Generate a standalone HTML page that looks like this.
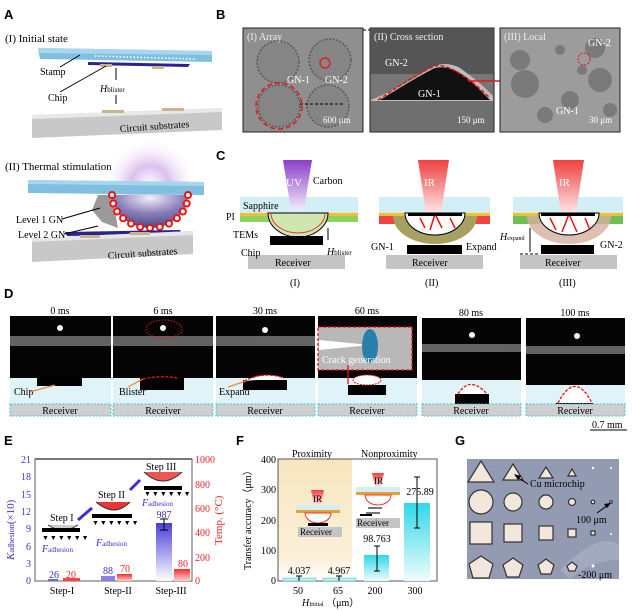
<!DOCTYPE html>
<html><head><meta charset="utf-8"><style>
html,body{margin:0;padding:0;background:#fff;}
svg{display:block;font-family:"Liberation Serif",serif;}
.pl{font-family:"Liberation Sans",sans-serif;font-weight:bold;font-size:13px;}
</style></head><body>
<svg width="632" height="611" viewBox="0 0 632 611" xmlns="http://www.w3.org/2000/svg">
<defs>
<linearGradient id="uv" x1="0" y1="0" x2="0" y2="1"><stop offset="0" stop-color="#8a3fc8"/><stop offset="1" stop-color="#f3e9fa"/></linearGradient>
<linearGradient id="ir" x1="0" y1="0" x2="0" y2="1"><stop offset="0" stop-color="#f04040"/><stop offset="1" stop-color="#fde6e6"/></linearGradient>
<linearGradient id="bb" x1="0" y1="0" x2="0" y2="1"><stop offset="0" stop-color="#4a3fd8"/><stop offset="1" stop-color="#ffffff"/></linearGradient>
<linearGradient id="rb" x1="0" y1="0" x2="0" y2="1"><stop offset="0" stop-color="#f03030"/><stop offset="1" stop-color="#ffd0d0"/></linearGradient>
<linearGradient id="cb" x1="0" y1="0" x2="0" y2="1"><stop offset="0" stop-color="#30d8e8"/><stop offset="1" stop-color="#f0fcfd"/></linearGradient>
<linearGradient id="prox" x1="0" y1="0" x2="0" y2="1"><stop offset="0" stop-color="#f7e7c0"/><stop offset="0.8" stop-color="#faf0d8"/><stop offset="1" stop-color="#fff"/></linearGradient>
<radialGradient id="glow" cx="0.5" cy="0.5" r="0.5"><stop offset="0" stop-color="#fff"/><stop offset="0.4" stop-color="#dcc0ee"/><stop offset="1" stop-color="#fff" stop-opacity="0"/></radialGradient>
<radialGradient id="hemi" cx="0.5" cy="0.1" r="0.9"><stop offset="0" stop-color="#f4eef8"/><stop offset="0.5" stop-color="#8a80b8"/><stop offset="1" stop-color="#4a4a8a"/></radialGradient>
</defs>

<!-- ===== A ===== -->
<text class="pl" x="4" y="19">A</text>
<text x="5" y="42" font-size="11">(I) Initial state</text>
<polygon points="38,48 212,51 212,62 40,59" fill="#7fbfe0"/>
<polygon points="38,48 212,51 212,55 40,53" fill="#a9d6ee"/>
<line x1="95" y1="56" x2="195" y2="59" stroke="#fff" stroke-width="1.5" stroke-dasharray="1.5,2"/>
<polygon points="88,62 190,64 188,67 88,65" fill="#2a2290"/>
<rect x="100" y="64" width="12" height="3" fill="#c8b48a"/><rect x="152" y="66" width="12" height="3" fill="#c8b48a"/>
<polygon points="32,115 222,108 222,130 32,138" fill="#c8c8c8"/>
<polygon points="32,115 222,108 222,112 32,119" fill="#e8e8e8"/>
<rect x="102" y="110" width="22" height="3" fill="#c8b48a"/><rect x="162" y="108" width="22" height="3" fill="#c8b48a"/>
<text x="40" y="75" font-size="10">Stamp</text>
<line x1="60" y1="67" x2="80" y2="55" stroke="#000"/>
<text x="48" y="101" font-size="10">Chip</text>
<line x1="60" y1="92" x2="106" y2="66" stroke="#000"/>
<text x="100" y="92" font-size="10" font-style="italic">H<tspan font-size="7" font-style="normal">blister</tspan></text>
<line x1="116" y1="68" x2="116" y2="80" stroke="#000"/><line x1="116" y1="95" x2="116" y2="104" stroke="#000"/>
<text x="120" y="132" font-size="10" transform="rotate(-4 120 132)">Circuit substrates</text>

<text x="5" y="170" font-size="11">(II) Thermal stimulation</text>
<circle cx="150" cy="185" r="48" fill="url(#glow)"/>
<polygon points="28,180 204,182 204,195 28,193" fill="#7fbfe0"/>
<polygon points="28,180 204,182 204,186 28,184" fill="#a9d6ee"/>
<path d="M98,195 L112,195 L118,228 L102,222 L92,210 Z" fill="#9a9a9a"/>
<path d="M112,195 A38,33 0 0 0 188,195 Z" fill="url(#hemi)"/>
<g fill="#fff" stroke="#e11" stroke-width="2">
<circle cx="188" cy="195" r="3"/><circle cx="186.7" cy="203.5" r="3"/><circle cx="182.9" cy="211.5" r="3"/><circle cx="176.9" cy="218.3" r="3"/><circle cx="169" cy="223.6" r="3"/><circle cx="159.8" cy="226.9" r="3"/><circle cx="150" cy="228" r="3"/><circle cx="140.2" cy="226.9" r="3"/><circle cx="131" cy="223.6" r="3"/><circle cx="123.1" cy="218.3" r="3"/><circle cx="117.1" cy="211.5" r="3"/><circle cx="113.3" cy="203.5" r="3"/><circle cx="112" cy="195" r="3"/></g>
<polygon points="65,232 180,230 182,234 67,236" fill="#2a2290"/>
<polygon points="32,238 193,231 193,254 32,262" fill="#c8c8c8"/>
<polygon points="32,238 193,231 193,235 32,242" fill="#e6e6e6"/>
<rect x="80" y="235" width="20" height="3" fill="#c8b48a"/><rect x="130" y="232" width="20" height="3" fill="#c8b48a"/>
<text x="16" y="223" font-size="10">Level 1 GN</text>
<line x1="62" y1="219" x2="100" y2="208" stroke="#000"/>
<text x="18" y="238" font-size="10">Level 2 GN</text>
<line x1="64" y1="234" x2="98" y2="226" stroke="#000"/>
<text x="108" y="259" font-size="10" transform="rotate(-4 108 259)">Circuit substrates</text>

<!-- ===== B ===== -->
<text class="pl" x="216" y="19">B</text>
<rect x="243" y="28" width="120" height="104" fill="#8f8f8f" stroke="#222"/>
<g fill="#858585" stroke="#5a5a5a" stroke-width="1.5" stroke-dasharray="2,1.5">
<circle cx="278" cy="62" r="21"/><circle cx="330" cy="60" r="21"/><circle cx="279" cy="106" r="21"/><circle cx="328" cy="106" r="21"/></g>
<circle cx="279" cy="106" r="23" fill="none" stroke="#e11" stroke-width="1.5" stroke-dasharray="5,3"/>
<circle cx="325" cy="63" r="5" fill="none" stroke="#e11" stroke-width="1.3"/>
<text x="247" y="40" font-size="10" fill="#eee">(I) Array</text>
<text x="287" y="83" font-size="10" fill="#fff">GN-1</text>
<text x="325" y="83" font-size="10" fill="#fff">GN-2</text>
<text x="323" y="123" font-size="9" fill="#fff">600 μm</text>
<line x1="300" y1="104" x2="345" y2="104" stroke="#000" stroke-dasharray="3,2"/>
<line x1="363" y1="30" x2="370" y2="30" stroke="#000" stroke-dasharray="3,2"/>
<rect x="370" y="28" width="124" height="104" fill="#777" stroke="#222"/>
<rect x="371" y="29" width="122" height="45" fill="#555"/>
<path d="M371,100 Q400,88 430,68 Q445,60 460,68 Q480,82 493,96 L493,101 L371,101 Z" fill="#bdbdbd"/>
<path d="M380,100 Q420,75 435,68 Q450,64 470,80 L490,100 Z" fill="#111"/>
<rect x="371" y="101" width="122" height="30" fill="#6f6f6f"/>
<path d="M378,100 Q420,72 435,66 Q452,62 490,98" fill="none" stroke="#e11" stroke-width="1.5" stroke-dasharray="4,2"/>
<text x="374" y="40" font-size="10" fill="#eee">(II) Cross section</text>
<text x="385" y="66" font-size="10" fill="#fff">GN-2</text>
<text x="418" y="97" font-size="10" fill="#fff">GN-1</text>
<text x="457" y="123" font-size="9" fill="#fff">150 μm</text>
<line x1="468" y1="81" x2="505" y2="81" stroke="#e11" stroke-width="1.5"/>
<rect x="500" y="28" width="120" height="104" fill="#9c9c9c" stroke="#222"/>
<g fill="#7a7a7a"><circle cx="520" cy="60" r="10"/><circle cx="525" cy="84" r="14"/><circle cx="595" cy="48" r="10"/><circle cx="600" cy="80" r="12"/><circle cx="570" cy="100" r="9"/><circle cx="545" cy="115" r="8"/><circle cx="610" cy="110" r="7"/><circle cx="560" cy="50" r="5"/><circle cx="582" cy="70" r="5"/></g>
<circle cx="584" cy="59" r="6" fill="none" stroke="#e11" stroke-dasharray="2,1.5"/>
<text x="504" y="40" font-size="10" fill="#eee">(III) Local</text>
<text x="588" y="46" font-size="10" fill="#fff">GN-2</text>
<text x="556" y="114" font-size="10" fill="#fff">GN-1</text>
<text x="589" y="123" font-size="9" fill="#fff">30 μm</text>

<!-- ===== C ===== -->
<text class="pl" x="216" y="160">C</text>
<rect x="240" y="197" width="118" height="16" fill="#d3eff6"/>
<polygon points="283,160 312,160 304,210 291,210" fill="url(#uv)"/>
<rect x="240" y="213" width="118" height="3" fill="#f0c030"/>
<rect x="240" y="216" width="118" height="6" fill="#8dd160"/>
<path d="M268,213 A30,24 0 0 0 328,213 Z" fill="#cfe6b0" stroke="#000"/>
<path d="M271,213 A27,20 0 0 0 325,213" fill="none" stroke="#e33" stroke-width="1"/>
<rect x="270" y="236" width="53" height="9" fill="#000"/>
<rect x="248" y="255" width="97" height="14" fill="#c4c4c4"/>
<text x="286" y="186" font-size="11" fill="#fff">UV</text>
<text x="313" y="184" font-size="10">Carbon</text>
<text x="243" y="209" font-size="10">Sapphire</text>
<text x="226" y="220" font-size="10">PI</text>
<text x="233" y="238" font-size="10">TEMs</text>
<text x="241" y="256" font-size="10">Chip</text>
<text x="327" y="255" font-size="10" font-style="italic">H<tspan font-size="7" font-style="normal">blister</tspan></text>
<line x1="328" y1="228" x2="328" y2="240" stroke="#000"/>
<text x="275" y="266" font-size="10">Receiver</text>
<text x="290" y="286" font-size="10">(I)</text>
<rect x="379" y="197" width="111" height="16" fill="#d3eff6"/>
<polygon points="418,160 449,160 441,213 426,213" fill="url(#ir)"/>
<rect x="379" y="213" width="111" height="3" fill="#f0c030"/>
<rect x="379" y="216" width="111" height="8" fill="#8bbf55"/>
<rect x="379" y="216" width="30" height="8" fill="#e44"/><rect x="460" y="216" width="30" height="8" fill="#e44"/>
<path d="M393,216 A42,28 0 0 0 477,216 Z" fill="#a8a060"/>
<path d="M405,213 A30,22 0 0 0 465,213 Z" fill="#fff" stroke="#000"/>
<path d="M435,214 L430,230 M435,214 L442,228 M420,218 L425,228 M450,218 L455,228" stroke="#e11" stroke-width="1.5"/>
<rect x="408" y="213" width="54" height="3" fill="#000"/>
<rect x="407" y="245" width="55" height="9" fill="#000"/>
<rect x="386" y="255" width="97" height="14" fill="#c4c4c4"/>
<text x="424" y="186" font-size="11" fill="#fff">IR</text>
<text x="371" y="250" font-size="10">GN-1</text>
<text x="466" y="250" font-size="10">Expand</text>
<text x="412" y="266" font-size="10">Receiver</text>
<text x="425" y="286" font-size="10">(II)</text>
<rect x="513" y="197" width="110" height="16" fill="#d3eff6"/>
<polygon points="553,160 584,160 576,213 561,213" fill="url(#ir)"/>
<rect x="513" y="213" width="110" height="3" fill="#f0c030"/>
<rect x="513" y="216" width="110" height="8" fill="#6cbf55"/>
<path d="M527,216 A42,28 0 0 0 611,216 Z" fill="#d6b0a0" opacity="0.8"/>
<path d="M539,213 A30,22 0 0 0 599,213 Z" fill="#fff" stroke="#000"/>
<path d="M569,214 L562,232 M569,214 L577,232 M550,218 L556,230 M585,218 L590,230" stroke="#e11" stroke-width="1.5"/>
<rect x="541" y="213" width="54" height="3" fill="#000"/>
<rect x="541" y="245" width="53" height="9" fill="#000"/>
<rect x="520" y="255" width="97" height="14" fill="#c4c4c4"/>
<line x1="520" y1="254" x2="540" y2="254" stroke="#000" stroke-dasharray="3,2"/>
<line x1="530" y1="228" x2="530" y2="252" stroke="#000"/>
<text x="559" y="186" font-size="11" fill="#fff">IR</text>
<text x="500" y="240" font-size="10" font-style="italic">H<tspan font-size="6" font-style="normal">expand</tspan></text>
<text x="600" y="248" font-size="10">GN-2</text>
<text x="545" y="266" font-size="10">Receiver</text>
<text x="559" y="286" font-size="10">(III)</text>

<!-- ===== D ===== -->
<text class="pl" x="4" y="298">D</text>
<g font-size="10" text-anchor="middle">
<text x="60" y="314">0 ms</text><text x="163" y="314">6 ms</text><text x="265" y="314">30 ms</text><text x="367" y="314">60 ms</text><text x="471" y="316">80 ms</text><text x="575" y="316">100 ms</text></g>
<g fill="#050505">
<rect x="10" y="316" width="101" height="100"/><rect x="113" y="316" width="100" height="100"/><rect x="216" y="316" width="99" height="100"/>
<rect x="318" y="316" width="99" height="100"/><rect x="422" y="318" width="99" height="98"/><rect x="526" y="318" width="99" height="98"/></g>
<g fill="#7a7a7a" opacity="0.8">
<rect x="10" y="336" width="101" height="10"/><rect x="113" y="336" width="100" height="10"/><rect x="216" y="336" width="99" height="10"/>
<rect x="422" y="344" width="99" height="8"/><rect x="526" y="346" width="99" height="8"/></g>
<g fill="#fff"><circle cx="60" cy="328" r="3"/><circle cx="163" cy="328" r="3"/><circle cx="265" cy="330" r="3"/><circle cx="472" cy="335" r="3"/><circle cx="577" cy="336" r="3"/></g>
<ellipse cx="164" cy="329" rx="18" ry="9" fill="none" stroke="#e11" stroke-dasharray="1.5,1.5"/>
<g fill="#dff3f8">
<rect x="10" y="378" width="101" height="26"/><rect x="113" y="378" width="100" height="26"/><rect x="216" y="378" width="99" height="26"/>
<rect x="318" y="378" width="99" height="26"/><rect x="422" y="380" width="99" height="24"/><rect x="526" y="385" width="99" height="19"/></g>
<rect x="37" y="376" width="45" height="10" fill="#000"/>
<rect x="140" y="378" width="44" height="12" fill="#000"/>
<path d="M143,379 Q160,375 178,378" fill="none" stroke="#e11" stroke-width="1.3" stroke-dasharray="3,1.5"/>
<rect x="243" y="380" width="44" height="10" fill="#000"/>
<path d="M244,381 Q264,371 284,378" fill="#fff" stroke="#e11" stroke-width="1.3" stroke-dasharray="3,1.5"/>
<rect x="348" y="385" width="38" height="10" fill="#000"/>
<ellipse cx="367" cy="380" rx="14" ry="5" fill="#fff" stroke="#e11" stroke-dasharray="2,1"/>
<rect x="318" y="327" width="94" height="43" fill="#b8b8b8" stroke="#e11" stroke-width="1.3" stroke-dasharray="3,2"/>
<polygon points="319,340 370,345 319,350" fill="#fff"/>
<ellipse cx="370" cy="346" rx="8" ry="17" fill="#2a7fa8"/>
<text x="322" y="363" font-size="10" fill="#fff">Crack generation</text>
<line x1="348" y1="365" x2="348" y2="384" stroke="#e11" stroke-width="1.3"/>
<rect x="455" y="394" width="34" height="10" fill="#000"/>
<path d="M458,394 Q470,375 487,394" fill="#fff" stroke="#e11" stroke-width="1.3" stroke-dasharray="3,1.5"/>
<rect x="556" y="403" width="37" height="12" fill="#000"/>
<path d="M558,403 Q575,370 592,403" fill="#fff" stroke="#e11" stroke-width="1.3" stroke-dasharray="3,1.5"/>
<g fill="#cfcfcf" stroke="#39c4d6" stroke-dasharray="2,1.5">
<rect x="10" y="404" width="101" height="12"/><rect x="113" y="404" width="100" height="12"/><rect x="216" y="404" width="99" height="12"/>
<rect x="318" y="404" width="99" height="12"/><rect x="422" y="404" width="99" height="12"/><rect x="526" y="404" width="99" height="12"/></g>
<g font-size="10" text-anchor="middle"><text x="60" y="414">Receiver</text><text x="163" y="414">Receiver</text><text x="265" y="414">Receiver</text><text x="367" y="414">Receiver</text><text x="471" y="414">Receiver</text><text x="575" y="414">Receiver</text></g>
<text x="14" y="395" font-size="10">Chip</text><line x1="30" y1="392" x2="55" y2="385" stroke="#f08a30" stroke-width="1.2"/>
<text x="119" y="395" font-size="10">Blister</text><line x1="128" y1="387" x2="143" y2="379" stroke="#f08a30" stroke-width="1.2"/>
<text x="219" y="395" font-size="10">Expand</text><line x1="228" y1="387" x2="246" y2="381" stroke="#f08a30" stroke-width="1.2"/>
<text x="592" y="428" font-size="10">0.7 mm</text><line x1="590" y1="430" x2="627" y2="430" stroke="#000"/>

<!-- ===== E ===== -->
<text class="pl" x="4" y="445">E</text>
<rect x="35" y="459" width="157" height="122" fill="none" stroke="#777" stroke-width="1.2"/>
<line x1="35" y1="459" x2="192" y2="459" stroke="#777" stroke-width="2"/>
<g font-size="10" fill="#3a2fd0" text-anchor="end">
<text x="31" y="463">21</text><text x="31" y="480">18</text><text x="31" y="498">15</text><text x="31" y="515">12</text><text x="31" y="532">9</text><text x="31" y="550">6</text><text x="31" y="567">3</text><text x="31" y="584">0</text></g>
<g font-size="10" fill="#e22">
<text x="195" y="463">1000</text><text x="195" y="488">800</text><text x="195" y="512">600</text><text x="195" y="536">400</text><text x="195" y="561">200</text><text x="195" y="584">0</text></g>
<text font-size="11" fill="#3a2fd0" transform="translate(14,560) rotate(-90)"><tspan font-style="italic">K</tspan><tspan font-size="8">adhesion</tspan>(×10)</text>
<text font-size="11" fill="#e22" transform="translate(222,545) rotate(-90)">Temp. (°C)</text>
<rect x="48" y="579" width="10" height="2" fill="#7068e0"/>
<rect x="63" y="578" width="17" height="3" fill="#f44"/>
<rect x="101" y="576" width="14" height="5" fill="#8a80e8"/>
<rect x="117" y="574" width="15" height="7" fill="url(#rb)"/>
<rect x="156" y="523" width="16" height="58" fill="url(#bb)"/>
<line x1="164" y1="519" x2="164" y2="530" stroke="#000"/><line x1="160" y1="519" x2="168" y2="519" stroke="#000"/><line x1="160" y1="530" x2="168" y2="530" stroke="#000"/>
<rect x="174" y="569" width="16" height="12" fill="url(#rb)"/>
<g font-size="10" text-anchor="middle"><text x="54" y="578" fill="#3a2fd0">26</text><text x="71" y="578" fill="#e22">20</text>
<text x="108" y="574" fill="#3a2fd0">88</text><text x="125" y="572" fill="#e22">70</text><text x="164" y="518" fill="#3a2fd0">987</text><text x="183" y="567" fill="#e22">80</text></g>
<g font-size="10" text-anchor="middle"><text x="62" y="594">Step-I</text><text x="118" y="594">Step-II</text><text x="171" y="594">Step-III</text></g>
<text x="50" y="521" font-size="10">Step I</text>
<path d="M48,525 Q63,535 78,525" fill="#ccc" stroke="#333"/>
<rect x="42" y="528" width="38" height="4" fill="#000"/>
<text x="42" y="540" font-size="7" letter-spacing="1">▼▼▼▼▼▼</text>
<text x="42" y="552" font-size="10" fill="#3a2fd0"><tspan font-style="italic">F</tspan><tspan font-size="7">adhesion</tspan></text>
<line x1="78" y1="520" x2="92" y2="508" stroke="#3a2fd0" stroke-width="3"/>
<text x="98" y="498" font-size="10">Step II</text>
<path d="M96,502 Q115,518 130,502" fill="#e33" stroke="#333"/>
<rect x="92" y="514" width="40" height="4" fill="#000"/>
<text x="92" y="525" font-size="7" letter-spacing="1">▼▼▼▼▼▼</text>
<text x="96" y="546" font-size="10" fill="#3a2fd0"><tspan font-style="italic">F</tspan><tspan font-size="7">adhesion</tspan></text>
<line x1="130" y1="490" x2="140" y2="480" stroke="#3a2fd0" stroke-width="3"/>
<text x="146" y="470" font-size="10">Step III</text>
<path d="M144,472 Q163,490 182,472" fill="#e55" stroke="#333"/>
<rect x="144" y="486" width="38" height="4" fill="#000"/>
<text x="144" y="496" font-size="7" letter-spacing="1">▼▼▼▼▼▼</text>
<text x="142" y="506" font-size="10" fill="#3a2fd0"><tspan font-style="italic">F</tspan><tspan font-size="7">adhesion</tspan></text>

<!-- ===== F ===== -->
<text class="pl" x="236" y="445">F</text>
<rect x="278" y="459" width="74" height="122" fill="url(#prox)"/>
<rect x="278" y="459" width="159" height="122" fill="none" stroke="#555"/>
<g font-size="10" text-anchor="end"><text x="276" y="463">400</text><text x="276" y="493">300</text><text x="276" y="524">200</text><text x="276" y="554">100</text><text x="276" y="584">0</text></g>
<text font-size="10" transform="translate(251,570) rotate(-90)">Transfer accuracy（μm）</text>
<text x="292" y="457" font-size="10">Proximity</text>
<text x="361" y="457" font-size="10">Nonproximity</text>
<rect x="283" y="578" width="33" height="3" fill="#bdf0f4" stroke="#39c4d6" stroke-width="0.5"/>
<rect x="323" y="578" width="33" height="3" fill="#bdf0f4" stroke="#39c4d6" stroke-width="0.5"/>
<rect x="364" y="555" width="25" height="26" fill="url(#cb)"/>
<rect x="404" y="503" width="26" height="78" fill="url(#cb)"/>
<g stroke="#000"><line x1="377" y1="546" x2="377" y2="571"/><line x1="374" y1="546" x2="380" y2="546"/><line x1="374" y1="571" x2="380" y2="571"/>
<line x1="417" y1="477" x2="417" y2="528"/><line x1="414" y1="477" x2="420" y2="477"/><line x1="414" y1="528" x2="420" y2="528"/>
<line x1="299" y1="576" x2="299" y2="581"/><line x1="339" y1="576" x2="339" y2="581"/><line x1="296" y1="576" x2="302" y2="576"/><line x1="336" y1="576" x2="342" y2="576"/></g>
<g font-size="10" text-anchor="middle"><text x="299" y="574">4.037</text><text x="339" y="574">4.967</text><text x="377" y="542">98.763</text><text x="420" y="495">275.89</text>
<text x="298" y="594">50</text><text x="338" y="594">65</text><text x="375" y="594">200</text><text x="415" y="594">300</text></g>
<text x="302" y="606" font-size="10"><tspan font-style="italic">H</tspan><tspan font-size="6">Initial</tspan> （μm）</text>
<polygon points="311,490 324,490 321,505 314,505" fill="url(#ir)"/>
<text x="313" y="502" font-size="9">IR</text>
<rect x="296" y="505" width="44" height="5" fill="#d3eff6"/>
<rect x="296" y="510" width="44" height="3" fill="#e8a030"/>
<path d="M305,513 A13,10 0 0 0 331,513 Z" fill="#fff" stroke="#e33"/>
<rect x="308" y="523" width="20" height="3" fill="#000"/>
<rect x="298" y="527" width="44" height="10" fill="#c4c4c4"/>
<text x="300" y="535" font-size="9">Receiver</text>
<polygon points="372,473 384,473 381,487 375,487" fill="url(#ir)"/>
<text x="374" y="484" font-size="9">IR</text>
<rect x="356" y="487" width="44" height="5" fill="#d3eff6"/>
<rect x="356" y="492" width="44" height="3" fill="#e8a030"/>
<path d="M365,495 A13,10 0 0 0 391,495 Z" fill="#fff" stroke="#e33"/>
<rect x="368" y="507" width="14" height="2" fill="#777"/><rect x="366" y="512" width="14" height="2" fill="#777"/>
<rect x="360" y="514" width="12" height="2" fill="#000"/>
<rect x="356" y="518" width="44" height="10" fill="#c4c4c4"/>
<text x="357" y="526" font-size="9">Receiver</text>

<!-- ===== G ===== -->
<text class="pl" x="455" y="445">G</text>
<rect x="467" y="459" width="152" height="120" fill="#939bb2"/>
<path d="M560,570 Q600,530 619,545 L619,560 Q590,560 570,579 Z" fill="#aab0c4" opacity="0.7"/>
<g fill="#f3e6dc" stroke="#333" stroke-width="1.2">
<polygon points="481,461 494,482 468,482"/><polygon points="513,464 523,480 503,480"/><polygon points="546,467 553,478 539,478"/><polygon points="572,469 576,476 568,476"/>
<circle cx="481" cy="502" r="12"/><circle cx="513" cy="502" r="9"/><circle cx="546" cy="502" r="7"/><circle cx="572" cy="502" r="3.5"/><circle cx="593" cy="502" r="1.8"/><circle cx="611" cy="502" r="1.3"/>
<rect x="470" y="522" width="22" height="22"/><rect x="504" y="524" width="18" height="18"/><rect x="539" y="526" width="14" height="14"/><rect x="568" y="529" width="8" height="8"/><rect x="591" y="531" width="4" height="4"/>
<polygon points="481,556 493,564 489,578 473,578 469,564"/><polygon points="513,558 523,565 519,577 507,577 503,565"/><polygon points="546,559 554,565 551,574 541,574 538,565"/><polygon points="572,562 577,566 575,571 569,571 567,566"/>
</g>
<circle cx="593" cy="468" r="1.2" fill="#fff"/><circle cx="611" cy="468" r="1" fill="#fff"/><circle cx="611" cy="534" r="1" fill="#fff"/><circle cx="593" cy="566" r="1.5" fill="#fff"/>
<text x="530" y="487" font-size="10">Cu microchip</text>
<line x1="528" y1="484" x2="517" y2="477" stroke="#000"/><polygon points="514,474 521,476 518,480" fill="#000"/>
<text x="576" y="523" font-size="10">100 μm</text>
<line x1="597" y1="513" x2="608" y2="505" stroke="#000"/><polygon points="611,503 604,504 607,508" fill="#000"/>
<text x="578" y="578" font-size="10">-200 μm</text>
</svg>
</body></html>
